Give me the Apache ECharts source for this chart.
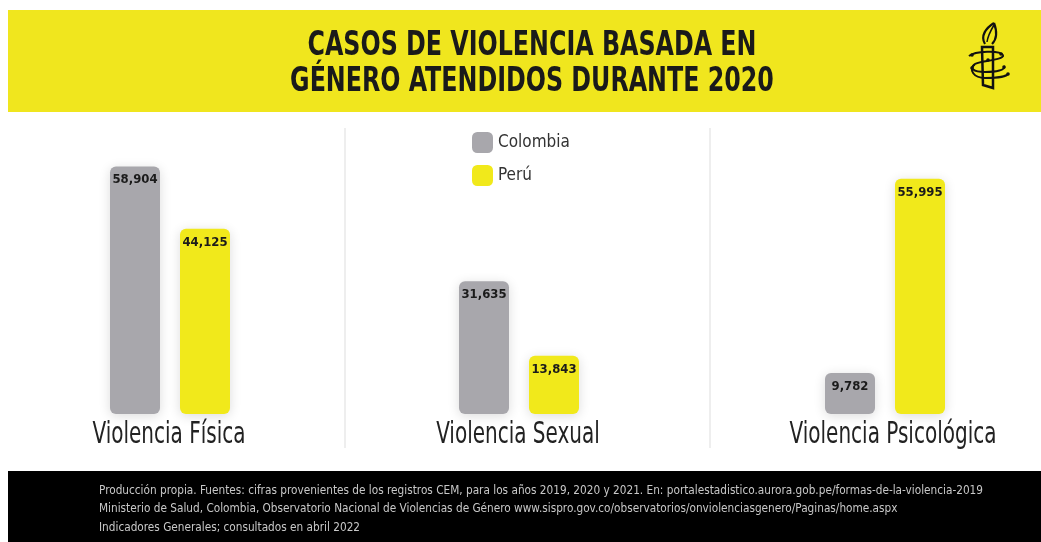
<!DOCTYPE html>
<html>
<head>
<meta charset="utf-8">
<script src="https://cdn.jsdelivr.net/npm/echarts@6/dist/echarts.min.js"></script>
<style>html,body{margin:0;padding:0;background:#fff}#c{width:1041px;height:542px}</style>
</head>
<body>
<div id="c"></div>
<script>
// ---- data ----
const titleLines = ['CASOS DE VIOLENCIA BASADA EN', 'GÉNERO ATENDIDOS DURANTE 2020'];
const categories = ['Violencia Física', 'Violencia Sexual', 'Violencia Psicológica'];
const seriesNames = ['Colombia', 'Perú'];
const colombia = [58904, 31635, 9782];
const peru = [44125, 13843, 55995];
const footerLines = [
  'Producción propia. Fuentes: cifras provenientes de los registros CEM, para los años 2019, 2020 y 2021. En: portalestadistico.aurora.gob.pe/formas-de-la-violencia-2019',
  'Ministerio de Salud, Colombia, Observatorio Nacional de Violencias de Género www.sispro.gov.co/observatorios/onviolenciasgenero/Paginas/home.aspx',
  'Indicadores Generales; consultados en abril 2022'
];

// ---- style / layout ----
const NARROW = '"Liberation Sans Narrow", "Arial Narrow", "DejaVu Sans Condensed", sans-serif';
const YELLOW = '#f0e61e';
const BAR_YELLOW = '#f1e91b';
const GRAY = '#a8a7ac';
const panelCenters = [170, 519, 885];
const labelCenters = [169, 518, 893];

function measure(text, font) {
  const ctx = document.createElement('canvas').getContext('2d');
  ctx.font = font;
  return ctx.measureText(text).width;
}
const titleFont = 'bold 34px ' + NARROW;
const titleScale = 449 / measure(titleLines[0], titleFont);
const footFont = '12px ' + NARROW;
const footScale = 884 / measure(footerLines[0], footFont);
const catFont = '30px ' + NARROW;
const catScale = 153 / measure(categories[0], catFont);

const chart = echarts.init(document.getElementById('c'), null, {renderer: 'canvas'});

const grids = [], xAxes = [], yAxes = [], series = [];
categories.forEach((cat, i) => {
  grids.push({left: panelCenters[i] - 100, width: 200, top: 162, bottom: 128, containLabel: false});
  xAxes.push({
    type: 'category', gridIndex: i, data: [cat],
    axisLine: {show: false}, axisTick: {show: false}, splitLine: {show: false},
    axisLabel: {show: false}
  });
  yAxes.push({type: 'value', gridIndex: i, min: 0, max: 60000, show: false, splitLine: {show: false}});
  [[seriesNames[0], colombia[i], GRAY], [seriesNames[1], peru[i], BAR_YELLOW]].forEach(([name, v, col]) => {
    series.push({
      name, type: 'bar', xAxisIndex: i, yAxisIndex: i, data: [v],
      barWidth: 50, barGap: '40%',
      itemStyle: {color: col, borderRadius: 6, shadowBlur: 12, shadowColor: 'rgba(0,0,0,0.14)', shadowOffsetY: 2},
      label: {
        show: true, position: 'insideTop', distance: 7,
        fontSize: 13, fontWeight: 'bold', color: '#1b1b1b', fontFamily: NARROW,
        formatter: p => p.value.toLocaleString('en-US')
      },
      emphasis: {disabled: true}
    });
  });
});

const INK = {fill: 'none', stroke: '#111', lineWidth: 2};
function bez(x1, y1, cpx1, cpy1, cpx2, cpy2, x2, y2, lw) {
  return {type: 'bezierCurve', shape: {x1, y1, cpx1, cpy1, cpx2, cpy2, x2, y2},
    style: Object.assign({}, INK, {lineWidth: lw || 2})};
}
const graphic = [
  {type: 'rect', z: -10, shape: {x: 8, y: 10, width: 1033, height: 102}, style: {fill: YELLOW}},
  {type: 'rect', z: -10, shape: {x: 8, y: 471, width: 1033, height: 71}, style: {fill: '#000'}},
  {type: 'line', z: -10, shape: {x1: 345, y1: 128, x2: 345, y2: 448}, style: {stroke: '#e8e8e8', lineWidth: 1.5}},
  {type: 'line', z: -10, shape: {x1: 710, y1: 128, x2: 710, y2: 448}, style: {stroke: '#e8e8e8', lineWidth: 1.5}},
  // logo
  {type: 'polygon', shape: {points: [[982, 47], [993, 47], [993, 88], [983, 85]]}, style: {fill: 'none', stroke: '#111', lineWidth: 2.5}},
  bez(985, 44, 980, 36, 986, 28, 994, 23, 2.2),
  bez(994, 23, 997, 31, 997, 39, 992, 44, 2.2),
  bez(987, 42, 988, 35, 991, 30, 994, 25, 1.5),
  bez(969, 56, 975, 51, 1000, 50, 1003, 55),
  bez(1003, 55, 1005, 60, 980, 61, 975, 64),
  bez(975, 64, 969, 68, 973, 72, 985, 72),
  bez(985, 72, 996, 72, 1006, 70, 1004, 66),
  bez(975, 64, 968, 70, 974, 78, 985, 78),
  bez(985, 78, 998, 78, 1007, 76, 1008, 74),
  {type: 'circle', shape: {cx: 972, cy: 55, r: 1.8}, style: {fill: '#111'}},
  {type: 'circle', shape: {cx: 1001, cy: 54, r: 1.8}, style: {fill: '#111'}},
  {type: 'circle', shape: {cx: 988, cy: 60, r: 1.8}, style: {fill: '#111'}},
  {type: 'circle', shape: {cx: 972, cy: 68, r: 1.8}, style: {fill: '#111'}},
  {type: 'circle', shape: {cx: 1004, cy: 67, r: 1.8}, style: {fill: '#111'}},
  {type: 'circle', shape: {cx: 1008, cy: 74, r: 1.8}, style: {fill: '#111'}}
];
titleLines.forEach((t, k) => {
  graphic.push({type: 'text', x: 532, y: 46 + k * 36, scaleX: titleScale,
    style: {text: t, font: titleFont, fill: '#1a1a1a', align: 'center', verticalAlign: 'middle'}});
});
categories.forEach((t, i) => {
  graphic.push({type: 'text', x: labelCenters[i], y: 435, scaleX: catScale,
    style: {text: t, font: catFont, fill: '#222', align: 'center', verticalAlign: 'middle'}});
});
footerLines.forEach((t, k) => {
  graphic.push({type: 'text', x: 99, y: [491, 509, 528][k], scaleX: footScale,
    style: {text: t, font: footFont, fill: '#c8c8c8', align: 'left', verticalAlign: 'middle'}});
});

chart.setOption({
  backgroundColor: '#fff',
  animation: false,
  grid: grids, xAxis: xAxes, yAxis: yAxes, series,
  legend: {
    data: seriesNames, orient: 'vertical', left: 472, top: 132, padding: 0,
    itemWidth: 21, itemHeight: 21, itemGap: 12, icon: 'roundRect',
    itemStyle: {shadowBlur: 0, shadowColor: 'transparent', borderRadius: 4},
    textStyle: {fontSize: 17, color: '#333', fontFamily: NARROW}
  },
  graphic
});
</script>
</body>
</html>
